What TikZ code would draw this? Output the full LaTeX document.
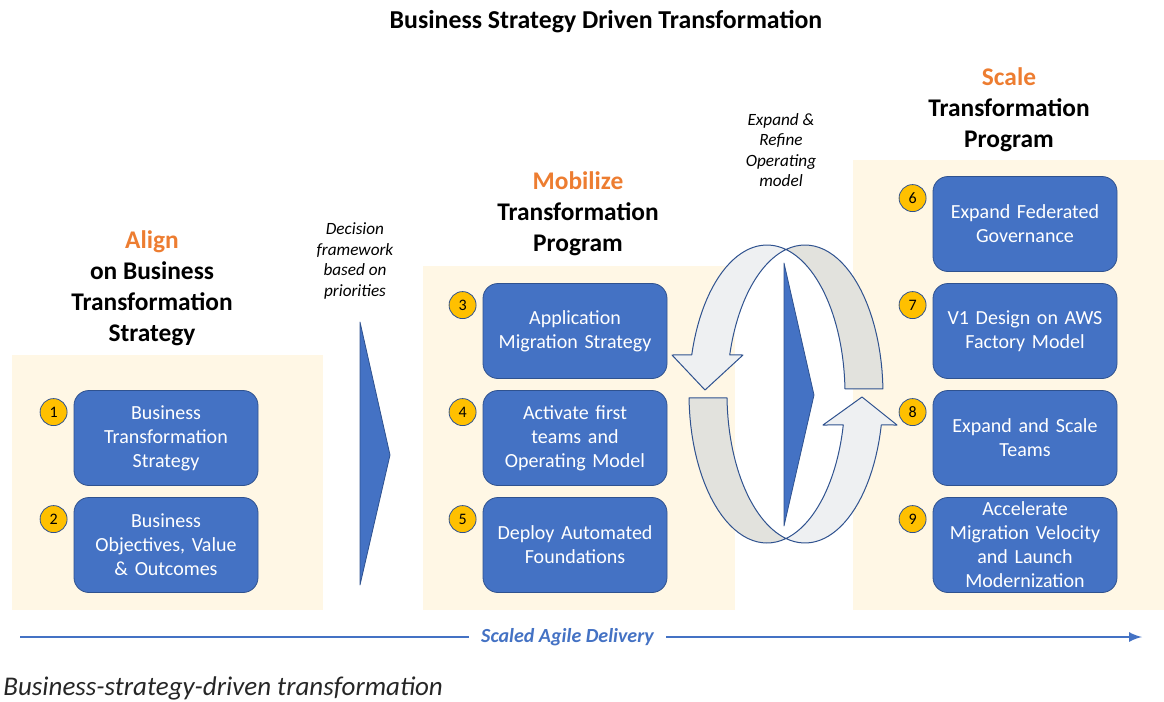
\documentclass[tikz,border=0pt]{standalone}
\usepackage{fontspec}
\setmainfont{Carlito}
\usepackage{tikz}
\usetikzlibrary{calc,positioning}
\definecolor{stepblue}{HTML}{4472C4}
\definecolor{stepedge}{HTML}{2F528F}
\definecolor{cream}{HTML}{FFF7E5}
\definecolor{dotyellow}{HTML}{FFC000}
\definecolor{headorange}{HTML}{ED7D31}
\definecolor{ringback}{HTML}{E2E2DD}
\definecolor{ringfront}{HTML}{EEF0F2}
\tikzstyle{panel}=[fill=cream]
\tikzstyle{stepbox}=[draw=stepedge, fill=stepblue, rounded corners=7.5pt, text=white, minimum width=92pt, minimum height=47.5pt, text width=90pt, align=center, inner sep=0.5pt, font=\fontsize{10}{12}\selectfont]
\tikzstyle{numdot}=[circle, draw=stepedge, fill=dotyellow, minimum size=13.5pt, inner sep=0pt, font=\fontsize{8}{9}\selectfont]
\tikzstyle{heading}=[align=center, font=\bfseries\fontsize{12.7}{15.5}\selectfont]
\tikzstyle{note}=[align=center, font=\itshape\fontsize{8.6}{10.3}\selectfont]
\tikzstyle{ring}=[draw=stepedge, line width=0.5pt, line join=round]

\begin{document}
\begin{tikzpicture}[x=0.5pt, y=-0.5pt]
\useasboundingbox (0,0) rectangle (1164,702);
% panels
\fill[panel] (12,355) rectangle (323,610);
\fill[panel] (423,266) rectangle (735,610);
\fill[panel] (853,160) rectangle (1164,610);
\node[font=\bfseries\fontsize{12.9}{15}\selectfont] (title) at (606,22) {Business Strategy Driven Transformation};
\node[heading] (hAlign) at (152,288) {\textcolor{headorange}{Align}\\on Business\\Transformation\\Strategy};
\node[heading] (hMobilize) at (578,214) {\textcolor{headorange}{Mobilize}\\Transformation\\Program};
\node[heading] (hScale) at (1009,110) {\textcolor{headorange}{Scale}\\Transformation\\Program};
\node[note] (lDecision) at (355,261) {Decision\\framework\\based on\\priorities};
\node[note] (lExpand) at (781,150) {Expand \&\\Refine\\Operating\\model};
% steps
\foreach \n/\cx/\cy/\txt in {
	1/166/438/{Business\\Transformation\\Strategy},
	2/166/545/{Business\\Objectives, Value\\\& Outcomes},
	3/575/331/{Application\\Migration Strategy},
	4/575/438/{Activate first\\teams and\\Operating Model},
	5/575/545/{Deploy Automated\\Foundations},
	6/1025/224/{Expand Federated\\Governance},
	7/1025/331/{V1 Design on AWS\\Factory Model},
	8/1025/438/{Expand and Scale\\Teams},
	9/1025/545/{Accelerate\\Migration Velocity\\and Launch\\Modernization}} {
	\node[stepbox] (s\n) at (\cx,\cy) {\txt};
	\node[numdot] (n\n) at ($(s\n.north west)+(-20,22)$) {\n};
}
% chevrons
\draw[fill=stepblue, draw=stepedge, line join=round] (360,322) -- (390,455) -- (360,585) -- cycle;
% circular arrows
\draw[ring, fill=ringback] plot[domain=-2:-104.1, samples=30] ({805+78*cos(\x)},{394+149*sin(\x)})
	-- plot[domain=-75.9:-2, samples=30] ({767+78*cos(\x)},{394+149*sin(\x)}) -- cycle;
\draw[ring, fill=ringback] plot[domain=178.5:75.9, samples=30] ({767+78*cos(\x)},{394+149*sin(\x)})
	-- plot[domain=104.1:178.5, samples=30] ({805+78*cos(\x)},{394+149*sin(\x)}) -- cycle;
\draw[ring, fill=ringfront] plot[domain=-75.9:-164.8, samples=30] ({767+78*cos(\x)},{394+149*sin(\x)})
	-- (672,355) -- (705,390) -- (743,355)
	-- plot[domain=-164.8:-104.1, samples=30] ({805+78*cos(\x)},{394+149*sin(\x)}) -- cycle;
\draw[ring, fill=ringfront] plot[domain=104.1:12, samples=30] ({805+78*cos(\x)},{394+149*sin(\x)})
	-- (897,425) -- (862,397) -- (823,425)
	-- plot[domain=12:75.9, samples=30] ({767+78*cos(\x)},{394+149*sin(\x)}) -- cycle;
\draw[fill=stepblue, draw=stepedge, line join=round] (784,263) -- (814,395) -- (784,526) -- cycle;
% delivery line
\coordinate (dstart) at (20,637);
\coordinate (dend) at (1142,637);
\draw[stepblue, line width=1.2pt, ->, >=latex] (dstart) -- node[pos=0.488, fill=white, text=stepblue, inner xsep=6pt, font=\bfseries\itshape\fontsize{10}{12}\selectfont] (agile) {Scaled Agile Delivery} (dend);
\node[anchor=base west, text=black!85, inner sep=0pt, font=\itshape\fontsize{13.5}{15}\selectfont] (caption) at (3,695) {Business-strategy-driven transformation};
\end{tikzpicture}
\end{document}
